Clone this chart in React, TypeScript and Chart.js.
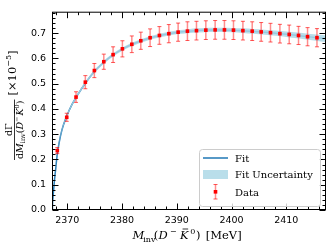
import React, { useEffect, useRef } from "react";
import { Chart, registerables } from "chart.js";

Chart.register(...registerables);

// ---- data ----
const dataX = [2368.17, 2369.89, 2371.59, 2373.29, 2374.94, 2376.66, 2378.36, 2380.06, 2381.78, 2383.42, 2385.12, 2386.82, 2388.54, 2390.24, 2391.94, 2393.59, 2395.3, 2397.0, 2398.7, 2400.35, 2402.07, 2403.77, 2405.41, 2407.11, 2408.83, 2410.53, 2412.23, 2413.88, 2415.6];
const dataY = [0.235, 0.367, 0.447, 0.506, 0.552, 0.587, 0.615, 0.638, 0.656, 0.67, 0.682, 0.691, 0.698, 0.704, 0.708, 0.71, 0.712, 0.713, 0.713, 0.712, 0.71, 0.708, 0.705, 0.702, 0.698, 0.695, 0.691, 0.686, 0.682];
const dataErr = [0.012, 0.016, 0.021, 0.026, 0.028, 0.03, 0.031, 0.032, 0.033, 0.034, 0.035, 0.035, 0.036, 0.036, 0.037, 0.037, 0.037, 0.037, 0.037, 0.037, 0.037, 0.037, 0.037, 0.037, 0.037, 0.037, 0.036, 0.036, 0.036];

const fitX = [2367.27, 2367.3, 2367.36, 2367.44, 2367.63, 2367.88, 2368.12, 2368.48, 2369.03, 2369.82, 2370.86, 2372.0, 2373.29, 2374.94, 2376.66, 2378.36, 2380.06, 2381.78, 2383.42, 2385.12, 2386.82, 2388.54, 2390.24, 2392.0, 2394.0, 2396.0, 2398.0, 2400.0, 2402.0, 2404.0, 2406.0, 2408.0, 2410.0, 2412.0, 2414.0, 2416.0, 2417.25];
const fitY = [0.0, 0.025, 0.045, 0.065, 0.113, 0.164, 0.214, 0.264, 0.318, 0.368, 0.418, 0.46, 0.502, 0.548, 0.585, 0.614, 0.637, 0.655, 0.669, 0.681, 0.69, 0.698, 0.704, 0.708, 0.711, 0.713, 0.713, 0.712, 0.71, 0.707, 0.704, 0.7, 0.696, 0.691, 0.686, 0.681, 0.678];
const fitErr = [0.0, 0.001, 0.0015, 0.002, 0.0025, 0.003, 0.0035, 0.004, 0.0045, 0.005, 0.005, 0.0055, 0.0055, 0.006, 0.006, 0.0065, 0.0065, 0.007, 0.007, 0.007, 0.0075, 0.0075, 0.0075, 0.008, 0.008, 0.008, 0.0085, 0.0085, 0.009, 0.0095, 0.01, 0.0105, 0.011, 0.0115, 0.012, 0.0125, 0.013];

const xTickValues = [2370, 2380, 2390, 2400, 2410];
const yTickValues = [0.0, 0.1, 0.2, 0.3, 0.4, 0.5, 0.6, 0.7];
const legendLabels = ["Fit", "Fit Uncertainty", "Data"];

const X_MIN = 2367.2;
const X_MAX = 2417.25;
const Y_MIN = 0;
const Y_MAX = 0.785;

const FIT_COLOR = "#1f77b4";
const BAND_COLOR = "rgba(173,216,230,0.85)";
const SERIF = '"DejaVu Serif"';

type Piece = { t: string; size: number; italic?: boolean; dy?: number; at?: number; dx?: number; bar?: boolean };

function pieceFont(p: Piece) {
  return `${p.italic ? "italic " : ""}${p.size}px ${SERIF}`;
}
function richWidth(ctx: CanvasRenderingContext2D, pieces: Piece[]) {
  let w = 0;
  for (const p of pieces) {
    ctx.font = pieceFont(p);
    w += ctx.measureText(p.t).width + (p.dx || 0);
  }
  return w;
}
function drawRich(ctx: CanvasRenderingContext2D, pieces: Piece[], x: number, y: number) {
  let cx = x;
  for (const p of pieces) {
    ctx.font = pieceFont(p);
    const w = ctx.measureText(p.t).width;
    const px = p.at !== undefined ? x + p.at : cx;
    const by = y + (p.dy || 0);
    ctx.fillText(p.t, px, by);
    if (p.bar) {
      const top = by - p.size * 0.73 - 1.6;
      ctx.save();
      ctx.lineWidth = 0.8;
      ctx.beginPath();
      ctx.moveTo(px + w * 0.3, top);
      ctx.lineTo(px + w * 0.95, top);
      ctx.stroke();
      ctx.restore();
    }
    cx = px + w + (p.dx || 0);
  }
}

const decorPlugin = {
  id: "decor",
  afterDatasetsDraw(chart: any) {
    const ctx = chart.ctx as CanvasRenderingContext2D;
    const xs = chart.scales.x;
    const ys = chart.scales.y;
    ctx.save();
    for (let i = 0; i < dataX.length; i++) {
      const px = xs.getPixelForValue(dataX[i]);
      const pTop = ys.getPixelForValue(dataY[i] + dataErr[i]);
      const pBot = ys.getPixelForValue(dataY[i] - dataErr[i]);
      ctx.strokeStyle = "rgba(255,0,0,0.45)";
      ctx.lineWidth = 1.5;
      ctx.beginPath();
      ctx.moveTo(px, pTop);
      ctx.lineTo(px, pBot);
      ctx.stroke();
      ctx.strokeStyle = "rgba(255,0,0,0.65)";
      ctx.lineWidth = 1;
      ctx.beginPath();
      ctx.moveTo(px - 2, pTop);
      ctx.lineTo(px + 2, pTop);
      ctx.moveTo(px - 2, pBot);
      ctx.lineTo(px + 2, pBot);
      ctx.stroke();
    }
    // markers at the positions the library computed for the data dataset
    const meta = chart.getDatasetMeta(3);
    ctx.fillStyle = "#ff0000";
    for (const el of meta.data) {
      ctx.fillRect(el.x - 1.8, el.y - 1.8, 3.6, 3.6);
    }
    ctx.restore();
  },
  afterDraw(chart: any) {
    const ctx = chart.ctx as CanvasRenderingContext2D;
    const { left, right, top, bottom } = chart.chartArea;
    const xs = chart.scales.x;
    const ys = chart.scales.y;
    const L = left + 0.5;
    const R = right - 0.5;
    const T = top + 0.5;
    const B = bottom - 0.5;
    ctx.save();
    ctx.strokeStyle = "#000";
    ctx.lineWidth = 1;
    ctx.strokeRect(L, T, R - L, B - T);

    // ticks (inward, all four sides)
    ctx.beginPath();
    for (let v = 2368; v <= 2417; v += 2) {
      const major = xTickValues.includes(v);
      const len = major ? 6 : 3;
      const px = Math.round(xs.getPixelForValue(v)) + 0.5;
      ctx.moveTo(px, B);
      ctx.lineTo(px, B - len);
      ctx.moveTo(px, T);
      ctx.lineTo(px, T + len);
    }
    for (let k = 0; k <= 39; k++) {
      const v = k * 0.02;
      if (v > Y_MAX) break;
      const major = k % 5 === 0;
      const len = major ? 6 : 3;
      const py = Math.round(ys.getPixelForValue(v)) + 0.5;
      ctx.moveTo(L, py);
      ctx.lineTo(L + len, py);
      ctx.moveTo(R, py);
      ctx.lineTo(R - len, py);
    }
    ctx.stroke();

    // x axis title
    ctx.fillStyle = "#000";
    ctx.strokeStyle = "#000";
    ctx.textBaseline = "alphabetic";
    ctx.textAlign = "left";
    const S = 11.5;
    const s = 8;
    const xTitle: Piece[] = [
      { t: "M", size: S, italic: true, at: 0 },
      { t: "inv", size: s, dy: 2.5, at: 10.7 },
      { t: "(", size: S, at: 21.3 },
      { t: "D", size: S, italic: true, at: 26 },
      { t: "\u2212", size: s, dy: -5, at: 37.5 },
      { t: "K", size: S, italic: true, bar: true, at: 47.5 },
      { t: "0", size: s, dy: -5, at: 57.8 },
      { t: ")", size: S, at: 63.5 },
      { t: "[MeV]", size: S, at: 73.3 },
    ];
    const cxMid = (left + right) / 2;
    drawRich(ctx, xTitle, cxMid - 56.5, 239);

    // y axis title (rotated)
    ctx.save();
    ctx.translate(14.5, 160);
    ctx.rotate(-Math.PI / 2);
    const F = 9.5;
    const f = 6.5;
    const num: Piece[] = [{ t: "d\u0393", size: F }];
    const den: Piece[] = [
      { t: "d", size: F },
      { t: "M", size: F, italic: true },
      { t: "inv", size: f, dy: 2 },
      { t: "(", size: F },
      { t: "D", size: F, italic: true },
      { t: "\u2212", size: f, dy: -4, dx: 1 },
      { t: "K", size: F, italic: true, bar: true },
      { t: "0", size: f, dy: -4 },
      { t: ")", size: F },
    ];
    const dw = richWidth(ctx, den);
    const nw = richWidth(ctx, num);
    const fw = Math.max(dw, nw) + 2;
    ctx.lineWidth = 0.8;
    ctx.beginPath();
    ctx.moveTo(0, 0);
    ctx.lineTo(fw, 0);
    ctx.stroke();
    drawRich(ctx, num, fw / 2 - nw / 2, -2.5);
    drawRich(ctx, den, fw / 2 - dw / 2, 8.5);
    const br: Piece[] = [
      { t: "[\u00d710", size: S },
      { t: "\u22125", size: s, dy: -5 },
      { t: "]", size: S },
    ];
    drawRich(ctx, br, fw + 4, 1.5);
    ctx.restore();

    // legend
    ctx.save();
    ctx.beginPath();
    (ctx as any).roundRect(199.5, 149.5, 121, 57, 3);
    ctx.fillStyle = "rgba(255,255,255,0.8)";
    ctx.fill();
    ctx.strokeStyle = "#cccccc";
    ctx.lineWidth = 1;
    ctx.stroke();

    ctx.strokeStyle = FIT_COLOR;
    ctx.lineWidth = 1.5;
    ctx.beginPath();
    ctx.moveTo(203, 158);
    ctx.lineTo(228, 158);
    ctx.stroke();

    ctx.fillStyle = BAND_COLOR;
    ctx.fillRect(203, 170, 25, 9);

    ctx.strokeStyle = "rgba(255,0,0,0.45)";
    ctx.lineWidth = 1.5;
    ctx.beginPath();
    ctx.moveTo(215.5, 184.5);
    ctx.lineTo(215.5, 199);
    ctx.stroke();
    ctx.strokeStyle = "rgba(255,0,0,0.65)";
    ctx.lineWidth = 1;
    ctx.beginPath();
    ctx.moveTo(213.5, 184.5);
    ctx.lineTo(217.5, 184.5);
    ctx.moveTo(213.5, 199);
    ctx.lineTo(217.5, 199);
    ctx.stroke();
    ctx.fillStyle = "#ff0000";
    ctx.fillRect(213.7, 190, 3.6, 3.6);

    ctx.fillStyle = "#000";
    ctx.font = `10px ${SERIF}`;
    ctx.fillText(legendLabels[0], 235, 161.7);
    ctx.fillText(legendLabels[1], 235, 178.3);
    ctx.fillText(legendLabels[2], 235, 196);
    ctx.restore();

    ctx.restore();
  },
};

export default function App() {
  const ref = useRef<HTMLCanvasElement | null>(null);
  useEffect(() => {
    if (!ref.current) return;
    const upper = fitX.map((x, i) => ({ x, y: fitY[i] + fitErr[i] }));
    const lower = fitX.map((x, i) => ({ x, y: fitY[i] - fitErr[i] }));
    const fit = fitX.map((x, i) => ({ x, y: fitY[i] }));
    const pts = dataX.map((x, i) => ({ x, y: dataY[i] }));
    const tickFont = { family: '"DejaVu Sans"', size: 9.5 };
    const chart = new Chart(ref.current, {
      type: "scatter",
      data: {
        datasets: [
          { label: "upper", data: upper, showLine: true, borderWidth: 0, pointRadius: 0, backgroundColor: BAND_COLOR, borderColor: "rgba(0,0,0,0)", fill: "+1", cubicInterpolationMode: "monotone" } as any,
          { label: "lower", data: lower, showLine: true, borderWidth: 0, pointRadius: 0, borderColor: "rgba(0,0,0,0)", fill: false, cubicInterpolationMode: "monotone" } as any,
          { label: legendLabels[0], data: fit, showLine: true, borderWidth: 1.5, borderColor: FIT_COLOR, pointRadius: 0, fill: false, cubicInterpolationMode: "monotone" } as any,
          {
            label: legendLabels[2],
            data: pts,
            showLine: false,
            pointStyle: "rect",
            pointRadius: 0,
            backgroundColor: "#ff0000",
            borderColor: "#ff0000",
          } as any,
        ],
      },
      options: {
        animation: false,
        responsive: true,
        maintainAspectRatio: false,
        layout: { padding: { top: 5, right: 6, left: 0, bottom: 0 } },
        plugins: { legend: { display: false }, tooltip: { enabled: false } },
        scales: {
          x: {
            type: "linear",
            min: X_MIN,
            max: X_MAX,
            grid: { display: false, drawTicks: false },
            border: { display: false },
            afterBuildTicks: (scale: any) => {
              scale.ticks = xTickValues.map((v) => ({ value: v }));
            },
            afterFit: (scale: any) => {
              scale.height = 40;
            },
            ticks: { font: tickFont, color: "#000", padding: 5, maxRotation: 0, autoSkip: false, callback: (v: any) => String(v) },
          },
          y: {
            type: "linear",
            min: Y_MIN,
            max: Y_MAX,
            grid: { display: false, drawTicks: false },
            border: { display: false },
            afterBuildTicks: (scale: any) => {
              scale.ticks = yTickValues.map((v) => ({ value: v }));
            },
            afterFit: (scale: any) => {
              scale.width = 52;
            },
            ticks: { font: tickFont, color: "#000", padding: 6, autoSkip: false, callback: (v: any) => Number(v).toFixed(1) },
          },
        },
      } as any,
      plugins: [decorPlugin],
    });
    return () => chart.destroy();
  }, []);
  return (
    <div style={{ position: "fixed", left: 0, top: 0, width: 332, height: 250, background: "#fff" }}>
      <canvas ref={ref} />
    </div>
  );
}
